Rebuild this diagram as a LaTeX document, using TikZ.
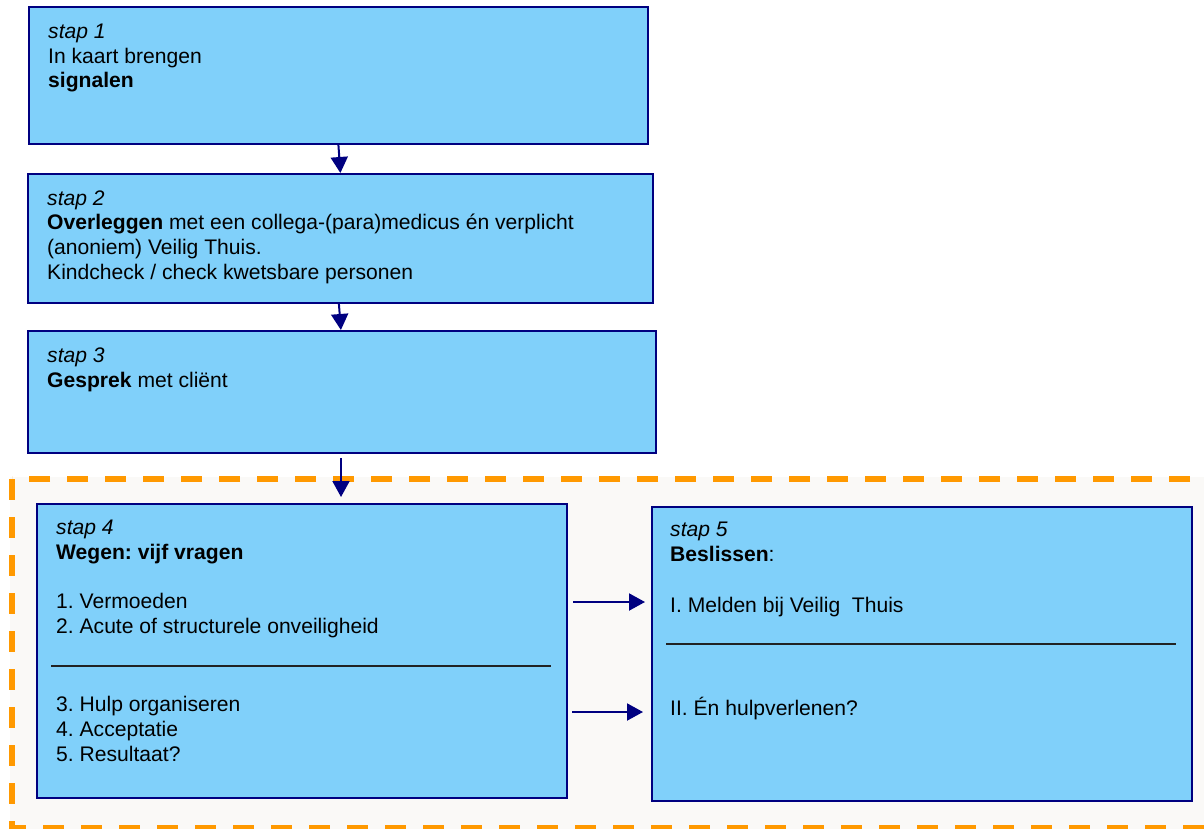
\documentclass[tikz,border=0pt]{standalone}
\usepackage{fontspec}
\setmainfont{Liberation Sans}
\frenchspacing
\usetikzlibrary{arrows.meta}
\definecolor{boxfill}{HTML}{80D0FA}
\definecolor{navyc}{HTML}{000080}
\definecolor{orangec}{HTML}{FF9900}
\definecolor{bgc}{HTML}{FAF9F7}
\definecolor{sepc}{HTML}{222222}
\tikzset{
  stepbox/.style={draw=navyc, fill=boxfill, line width=1.8pt, rectangle, inner sep=0pt, anchor=north west},
  txt/.style={anchor=base west, align=left, inner sep=0pt, font=\fontsize{21.1}{24.6}\selectfont},
  arr/.style={draw=navyc, line width=2pt, -{Triangle[length=16pt,width=17pt]}},
  sep/.style={draw=sepc, line width=2pt},
  frame/.style={draw=orangec, line width=5.5pt, dash pattern=on 21pt off 17pt}
}
\begin{document}
\begin{tikzpicture}[x=1pt,y=-1pt]
\useasboundingbox (0,0) rectangle (1204,829);
\clip (0,0) rectangle (1204,829);
% background and dashed frame
\fill[bgc] (10,477) rectangle (1220,840);
\draw[frame] (12,479) rectangle (1240,828);
% boxes
\node[stepbox, minimum width=619pt, minimum height=137pt] (b1) at (28,6) {};
\node[stepbox, minimum width=625pt, minimum height=129pt] (b2) at (27,173) {};
\node[stepbox, minimum width=628pt, minimum height=122pt] (b3) at (27,330) {};
\node[stepbox, minimum width=530pt, minimum height=294pt] (b4) at (36,503) {};
\node[stepbox, minimum width=540pt, minimum height=294pt] (b5) at (651,506) {};
% texts (anchored at the baseline of their last line)
\node[txt] (t1) at (48,88) {\textit{stap 1}\\In kaart brengen\\\textbf{signalen}};
\node[txt] (t2) at (47,279) {\textit{stap 2}\\\textbf{Overleggen} met een collega-(para)medicus én verplicht\\(anoniem) Veilig Thuis.\\Kindcheck / check kwetsbare personen};
\node[txt] (t3) at (47,387) {\textit{stap 3}\\\textbf{Gesprek} met cliënt};
\node[txt] (t4a) at (56,633) {\textit{stap 4}\\\textbf{Wegen: vijf vragen}\\[24.6pt]1. Vermoeden\\2. Acute of structurele onveiligheid};
\node[txt] (t4b) at (56,761) {3. Hulp organiseren\\4. Acceptatie\\5. Resultaat?};
\node[txt] (t5a) at (670,561) {\textit{stap 5}\\\textbf{Beslissen}:};
\node[txt] (t5b) at (670,612) {I. Melden bij Veilig\ \ Thuis};
\node[txt] (t5c) at (670,715) {II. Én hulpverlenen?};
% separators
\draw[sep] (51,666) -- (551,666);
\draw[sep] (666,644) -- (1176,644);
% arrows
\draw[arr] (b1.south) -- (b2.north);
\draw[arr] ([xshift=-1.5pt]b2.south) -- ([xshift=-1pt]b3.north);
\coordinate (a3s) at (341,458);
\coordinate (a3e) at (341,497);
\draw[arr] (a3s) -- (a3e);
\coordinate (a4s) at (573,602);
\coordinate (a5s) at (572,712);
\draw[arr] (a4s) -- ([xshift=-6pt]a4s -| b5.west);
\draw[arr] (a5s) -- ([xshift=-8pt]a5s -| b5.west);
\end{tikzpicture}
\end{document}
